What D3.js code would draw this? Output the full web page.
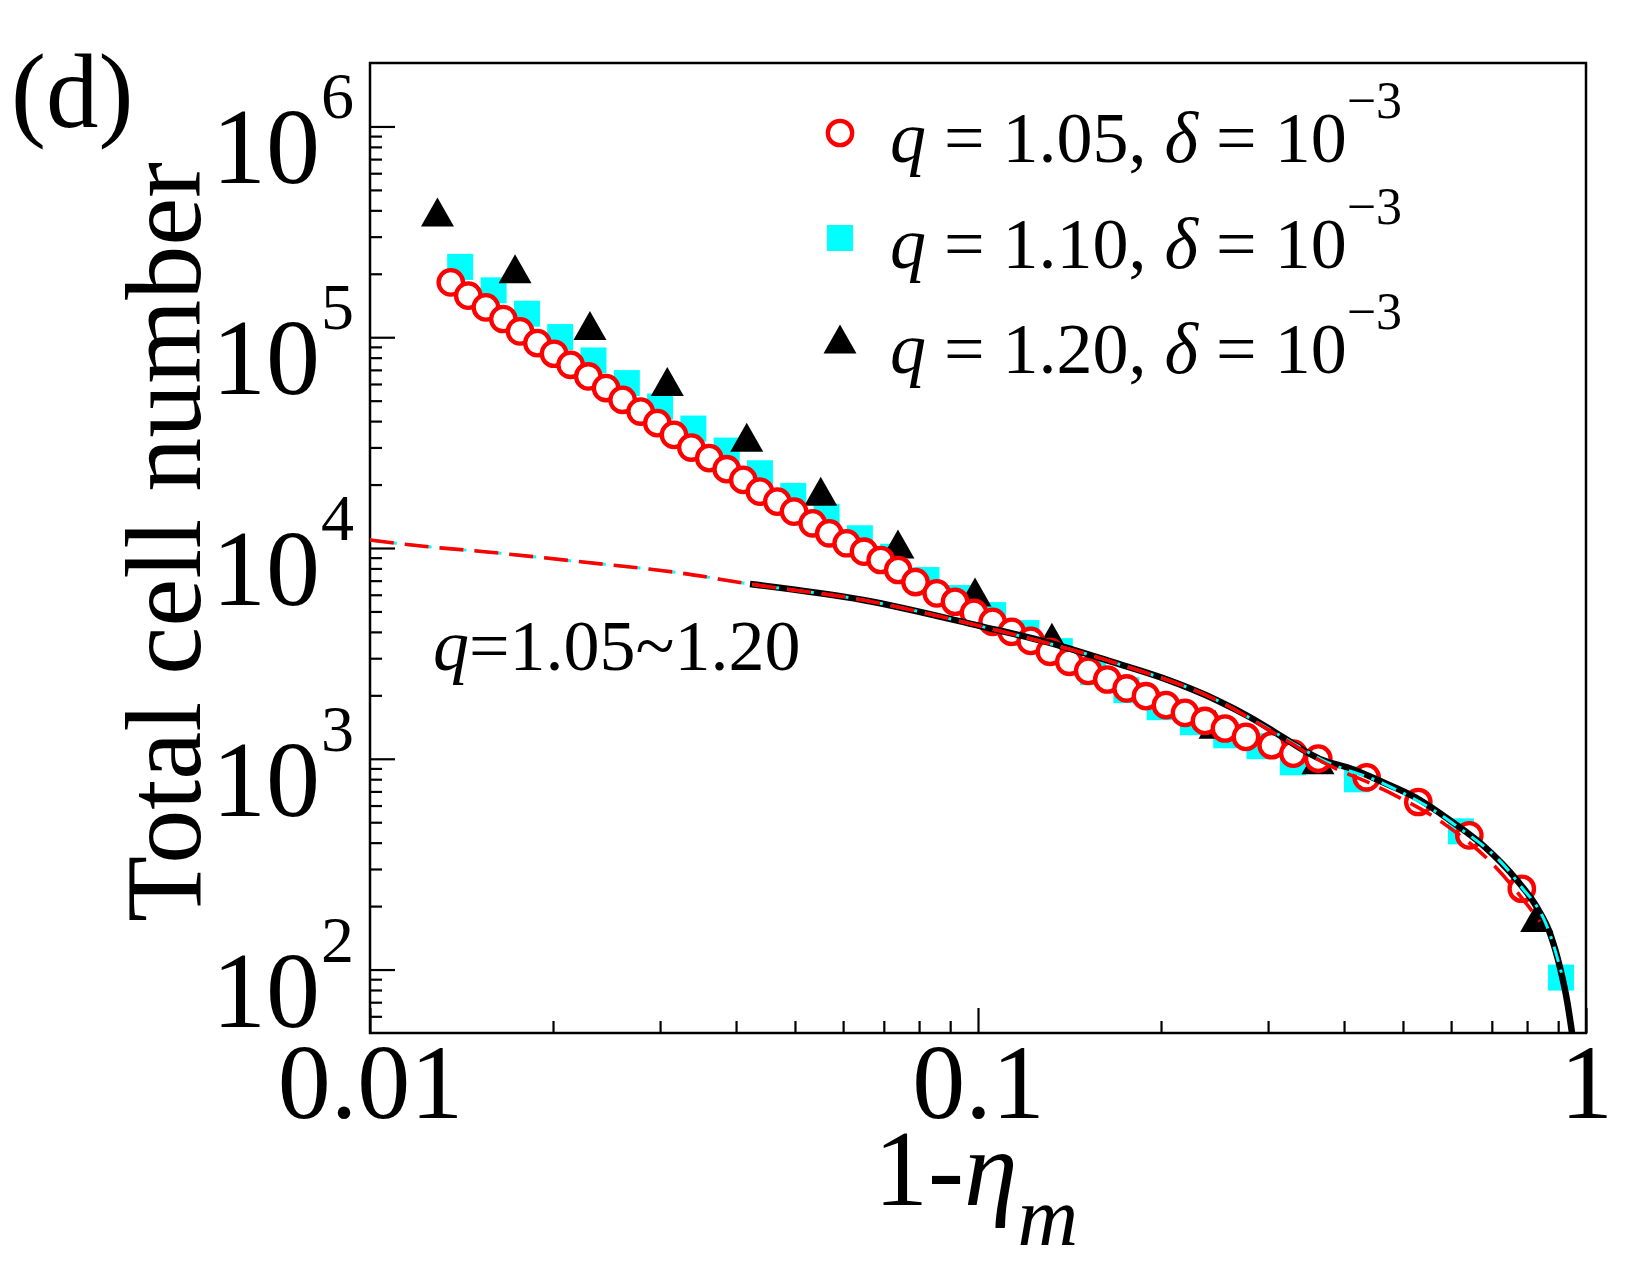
<!DOCTYPE html>
<html>
<head>
<meta charset="utf-8">
<script src="https://cdn.jsdelivr.net/npm/d3@7"></script>
<style>
  body { margin: 0; background: #fff; }
  svg text { font-family: "Liberation Serif", "Times New Roman", serif; fill: #000; white-space: pre; }
</style>
</head>
<body>
<svg width="1650" height="1275"></svg>
<script>
// q = 1.05 (open red circles)
var circleX = [0.01358, 0.01451, 0.01551, 0.01657, 0.01765, 0.01885, 0.02008, 0.02138, 0.02286, 0.02445,
  0.02603, 0.02787, 0.02969, 0.03162, 0.03377, 0.03614, 0.03861, 0.04111, 0.04379, 0.04677,
  0.04982, 0.05347, 0.05693, 0.06081, 0.06494, 0.06918, 0.07393, 0.07892, 0.08554, 0.09167,
  0.09849, 0.1057, 0.1136, 0.1221, 0.1313, 0.1413, 0.1518, 0.1632, 0.1756, 0.1889,
  0.2038, 0.2190, 0.2362, 0.2548, 0.2759, 0.3041, 0.3301, 0.3628, 0.4357, 0.5299,
  0.6428, 0.7842];
var circleY = [182100, 157500, 138500, 122000, 106600, 93800, 83500, 74000, 65150, 57380,
  50480, 44410, 39120, 34420, 29960, 26680, 23650, 21040, 18510, 16600,
  14880, 13100, 11740, 10530, 9603, 8770, 7863, 6895, 6092, 5558,
  4927, 4466, 4004, 3627, 3217, 2884, 2613, 2378, 2156, 1981,
  1796, 1651, 1512, 1392, 1270, 1159, 1058, 1002, 817, 623.5,
  433.2, 241.7];

// q = 1.10 (cyan squares)
var squareX = [0.01407, 0.01597, 0.01812, 0.02055, 0.02331, 0.02645, 0.03000, 0.03403, 0.03861, 0.04379,
  0.04968, 0.05636, 0.06393, 0.07253, 0.08228, 0.09335, 0.1059, 0.1201, 0.1363, 0.1546,
  0.1754, 0.1990, 0.2257, 0.2560, 0.2904, 0.3295, 0.4201, 0.6228, 0.9096];
var squareY = [215600, 166900, 129300, 100200, 77600, 60580, 46910, 36870, 28990, 22630,
  17660, 14080, 11120, 9092, 7047, 5787, 4805, 3947, 3241, 2576,
  2116, 1757, 1491, 1293, 1147, 962, 799, 452.5, 91.6];

// q = 1.20 (black triangles)
var triangleX = [0.01291, 0.01732, 0.02300, 0.03083, 0.04165, 0.05512, 0.07385, 0.09888, 0.1323, 0.2454, 0.3624, 0.8296];
var triangleY = [392500, 211100, 113800, 61580, 33570, 18590, 10450, 6180, 3777, 1459, 989, 176.6];

// theory curves
var solidX = [0.04217, 0.06471, 0.1008, 0.1299, 0.1667, 0.2015, 0.2471, 0.2802, 0.3174, 0.3476,
  0.3694, 0.4091, 0.4636, 0.5272, 0.5975, 0.6771, 0.7702, 0.8306, 0.8727, 0.9062, 0.9307, 0.9484];
var solidY = [6745, 5663, 4261, 3576, 2873, 2412, 1896, 1574, 1265, 1074,
  983.8, 901.2, 773.3, 649.4, 510.3, 388.2, 264.8, 197.0, 148.3, 102.2, 71.2, 50.2];

var dashX = [0.01, 0.01236, 0.01528, 0.02240, 0.03198, 0.04217, 0.06471, 0.1008, 0.1667, 0.2471,
  0.3174, 0.3694, 0.4636, 0.5862, 0.7085, 0.8400];
var dashY = [10910, 10160, 9625, 8580, 7650, 6745, 5663, 4261, 2873, 1896,
  1251, 962.5, 716.3, 488.4, 308.6, 169.0];

var dashDotX = [0.01, 0.01236, 0.01528, 0.02240, 0.03198, 0.04217, 0.06471, 0.1008, 0.1667, 0.2471,
  0.3174, 0.3694, 0.4636, 0.5975, 0.7702, 0.8727, 0.9167];
var dashDotY = [10910, 10160, 9625, 8580, 7650, 6745, 5663, 4261, 2873, 1896,
  1265, 983.8, 764.8, 504.9, 261.9, 146.7, 90.6];

var xTickValues = [0.01, 0.1, 1];
var xTickLabels = ["0.01", "0.1", "1"];
var yTickExponents = [2, 3, 4, 5, 6];
var legendQ = ["1.05", "1.10", "1.20"];
var legendDelta = "\u22123";

var svg = d3.select("svg"),
  width = +svg.attr("width"),
  height = +svg.attr("height");

svg.append("rect").attr("width", width).attr("height", height).attr("fill", "#fff");

// plot box (note: "top" is reserved on window, so use own names)
var box = { l: 370, r: 1586, t: 63, b: 1033 };

var x = d3.scaleLog().domain([0.01, 1]).range([box.l, box.r]);
var y = d3.scaleLog().domain([50, 2e6]).range([box.b, box.t]);

function zip(xs, ys) {
  return xs.map(function (d, i) { return { x: d, y: ys[i] }; });
}

// minor ticks
var xMinor = [];
[0.01, 0.1].forEach(function (base) {
  for (var k = 2; k <= 9; k++) xMinor.push(base * k);
});
var yMinor = [];
for (var e = 1; e <= 6; e++) {
  for (var k = 2; k <= 9; k++) {
    var v = k * Math.pow(10, e);
    if (v > 50 && v < 2e6) yMinor.push(v);
  }
}

function styleAxis(g) {
  g.attr("font-family", null).attr("font-size", null);
  g.select(".domain").remove();
  g.selectAll(".tick line").attr("stroke", "#000").attr("stroke-width", 2.2);
}

svg.append("g")
  .attr("transform", "translate(0," + box.b + ")")
  .call(d3.axisBottom(x).tickValues(xMinor).tickSizeInner(-12).tickSizeOuter(0).tickFormat(""))
  .call(styleAxis);

svg.append("g")
  .attr("transform", "translate(0," + box.b + ")")
  .call(d3.axisBottom(x).tickValues(xTickValues).tickSizeInner(-25).tickSizeOuter(0).tickPadding(10)
    .tickFormat(function (d, i) { return xTickLabels[i]; }))
  .call(styleAxis)
  .selectAll(".tick text")
  .style("font-size", "106px");

svg.append("g")
  .attr("transform", "translate(" + box.l + ",0)")
  .call(d3.axisLeft(y).tickValues(yMinor).tickSizeInner(-12).tickSizeOuter(0).tickFormat(""))
  .call(styleAxis);

svg.append("g")
  .attr("transform", "translate(" + box.l + ",0)")
  .call(d3.axisLeft(y).tickValues(yTickExponents.map(function (d) { return Math.pow(10, d); }))
    .tickSizeInner(-25).tickSizeOuter(0).tickFormat(""))
  .call(styleAxis);

// y tick labels 10^n
var yLab = svg.append("g").selectAll("g")
  .data(yTickExponents)
  .enter().append("g");
yLab.append("text")
  .attr("x", 320)
  .attr("y", function (d) { return y(Math.pow(10, d)) + 57; })
  .attr("text-anchor", "end")
  .style("font-size", "108px")
  .text("10");
yLab.append("text")
  .attr("x", 321)
  .attr("y", function (d) { return y(Math.pow(10, d)) - 8; })
  .style("font-size", "66px")
  .text(function (d) { return d; });

// frame
svg.append("rect")
  .attr("x", box.l).attr("y", box.t)
  .attr("width", box.r - box.l).attr("height", box.b - box.t)
  .attr("fill", "none").attr("stroke", "#000").attr("stroke-width", 2.5);

svg.append("clipPath").attr("id", "plot")
  .append("rect")
  .attr("x", box.l).attr("y", box.t)
  .attr("width", box.r - box.l).attr("height", box.b - box.t);

var plot = svg.append("g").attr("clip-path", "url(#plot)");

// symbols
plot.append("g").selectAll("rect")
  .data(zip(squareX, squareY))
  .enter().append("rect")
  .attr("x", function (d) { return x(d.x) - 13; })
  .attr("y", function (d) { return y(d.y) - 13; })
  .attr("width", 26).attr("height", 26)
  .attr("fill", "#00ffff");

plot.append("g").selectAll("path")
  .data(zip(triangleX, triangleY))
  .enter().append("path")
  .attr("d", "M0,-14.5L16.5,14.5L-16.5,14.5Z")
  .attr("transform", function (d) { return "translate(" + x(d.x) + "," + y(d.y) + ")"; })
  .attr("fill", "#000");

plot.append("g").selectAll("circle")
  .data(zip(circleX, circleY))
  .enter().append("circle")
  .attr("cx", function (d) { return x(d.x); })
  .attr("cy", function (d) { return y(d.y); })
  .attr("r", 12.2)
  .attr("fill", "#fff")
  .attr("stroke", "#ff0000")
  .attr("stroke-width", 4.3);

// curves
var line = d3.line()
  .x(function (d) { return x(d.x); })
  .y(function (d) { return y(d.y); })
  .curve(d3.curveMonotoneX);

plot.append("path")
  .datum(zip(solidX, solidY))
  .attr("d", line)
  .attr("fill", "none").attr("stroke", "#000").attr("stroke-width", 6.5);

plot.append("path")
  .datum(zip(dashDotX, dashDotY))
  .attr("d", line)
  .attr("fill", "none").attr("stroke", "#00ffff").attr("stroke-width", 3)
  .attr("stroke-dasharray", "16,8,3,8");

plot.append("path")
  .datum(zip(dashX, dashY))
  .attr("d", line)
  .attr("fill", "none").attr("stroke", "#ff0000").attr("stroke-width", 3.6)
  .attr("stroke-dasharray", "24,11");

// legend
var rowBase = [162, 268, 373];
var rowSym = [133, 238, 339];
var legend = svg.append("g");

legend.append("circle")
  .attr("cx", 840).attr("cy", rowSym[0]).attr("r", 12.2)
  .attr("fill", "#fff").attr("stroke", "#ff0000").attr("stroke-width", 4.3);
legend.append("rect")
  .attr("x", 827).attr("y", rowSym[1] - 13).attr("width", 26).attr("height", 26)
  .attr("fill", "#00ffff");
legend.append("path")
  .attr("d", "M0,-14.5L16.5,14.5L-16.5,14.5Z")
  .attr("transform", "translate(840," + rowSym[2] + ")")
  .attr("fill", "#000");

var rows = legend.selectAll("text.leg")
  .data(legendQ)
  .enter().append("text")
  .attr("class", "leg")
  .attr("x", 890)
  .attr("y", function (d, i) { return rowBase[i]; })
  .style("font-size", "72px");
rows.append("tspan").style("font-style", "italic").text("q");
rows.append("tspan").text(function (d) { return " = " + d + ", "; });
rows.append("tspan").style("font-style", "italic").text("\u03b4");
rows.append("tspan").text(" = 10");
rows.append("tspan").attr("dy", -44).style("font-size", "52px").text(legendDelta);

// annotation
var ann = svg.append("text")
  .attr("x", 433).attr("y", 670)
  .style("font-size", "72px");
ann.append("tspan").style("font-style", "italic").text("q");
ann.append("tspan").text("=1.05~1.20");

// panel label
svg.append("text")
  .attr("x", 11).attr("y", 127)
  .style("font-size", "105px")
  .text("(d)");

// axis titles
var xt = svg.append("text")
  .attr("x", 874).attr("y", 1205)
  .style("font-size", "108px");
xt.append("tspan").text("1-");
xt.append("tspan").style("font-style", "italic").text("\u03b7");
xt.append("tspan").attr("dy", 40).style("font-style", "italic").style("font-size", "84px").text("m");

svg.append("text")
  .attr("transform", "translate(200,542) rotate(-90)")
  .attr("text-anchor", "middle")
  .style("font-size", "108px")
  .text("Total cell number");
</script>
</body>
</html>
